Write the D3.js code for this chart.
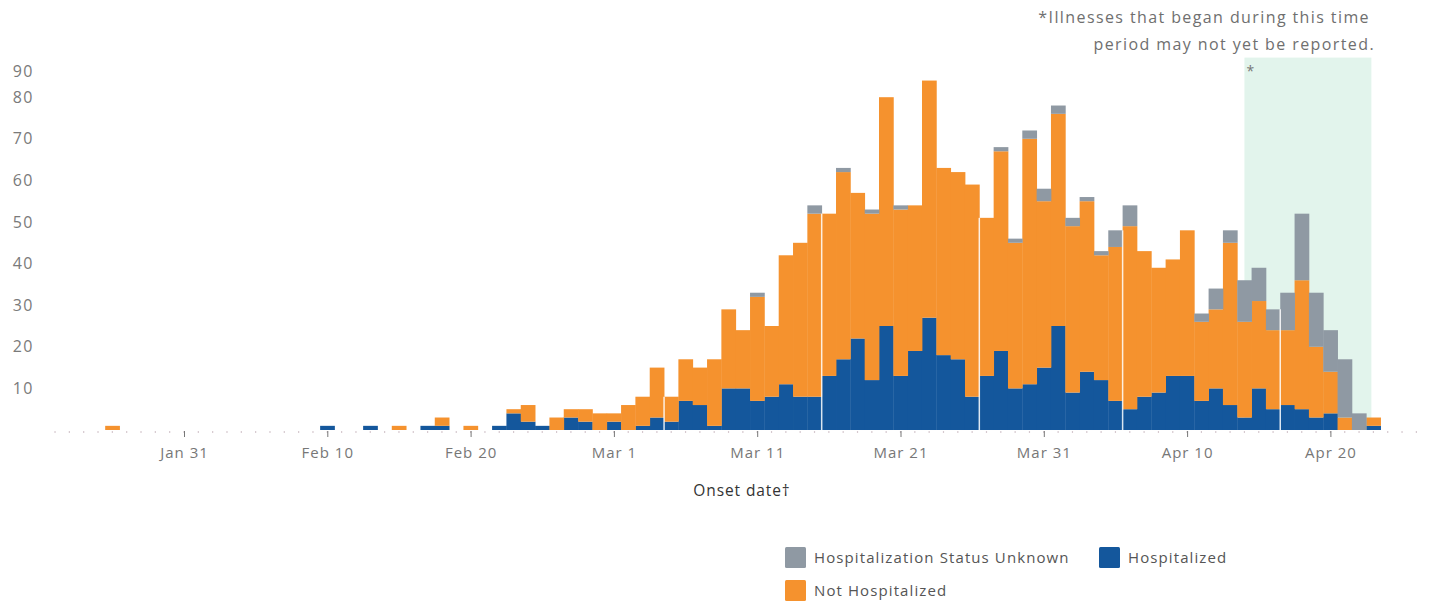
<!DOCTYPE html>
<html>
<head>
<meta charset="utf-8">
<script src="https://cdn.jsdelivr.net/npm/d3@7"></script>
<style>
  body { margin: 0; background: #fff; }
  svg { display: block; font-family: "Open Sans", sans-serif; }
</style>
</head>
<body>
<svg id="chart" width="1437" height="602"></svg>
<script>
// data (onset date, case counts)
var onsetDates = ['2020-01-26','2020-02-10','2020-02-13','2020-02-15','2020-02-17','2020-02-18','2020-02-20',
  '2020-02-22','2020-02-23','2020-02-24','2020-02-25','2020-02-26','2020-02-27','2020-02-28','2020-02-29',
  '2020-03-01','2020-03-02','2020-03-03','2020-03-04','2020-03-05','2020-03-06','2020-03-07','2020-03-08',
  '2020-03-09','2020-03-10','2020-03-11','2020-03-12','2020-03-13','2020-03-14','2020-03-15','2020-03-16',
  '2020-03-17','2020-03-18','2020-03-19','2020-03-20','2020-03-21','2020-03-22','2020-03-23','2020-03-24',
  '2020-03-25','2020-03-26','2020-03-27','2020-03-28','2020-03-29','2020-03-30','2020-03-31','2020-04-01',
  '2020-04-02','2020-04-03','2020-04-04','2020-04-05','2020-04-06','2020-04-07','2020-04-08','2020-04-09',
  '2020-04-10','2020-04-11','2020-04-12','2020-04-13','2020-04-14','2020-04-15','2020-04-16','2020-04-17',
  '2020-04-18','2020-04-19','2020-04-20','2020-04-21','2020-04-22','2020-04-23'];

var hospitalized = [0,1,1,0,1,1,0,
  1,4,2,1,0,3,2,0,
  2,0,1,3,2,7,6,1,
  10,10,7,8,11,8,8,13,
  17,22,12,25,13,19,27,18,
  17,8,13,19,10,11,15,25,
  9,14,12,7,5,8,9,13,
  13,7,10,6,3,10,5,6,
  5,3,4,0,0,1];

var notHospitalized = [1,0,0,1,0,2,1,
  0,1,4,0,3,2,3,4,
  2,6,7,12,6,10,9,16,
  19,14,25,17,31,37,44,39,
  45,35,40,55,40,35,57,45,
  45,51,38,48,35,59,40,51,
  40,41,30,37,44,35,30,28,
  35,19,19,39,23,21,19,18,
  31,17,10,3,0,2];

var statusUnknown = [0,0,0,0,0,0,0,
  0,0,0,0,0,0,0,0,
  0,0,0,0,0,0,0,0,
  0,0,1,0,0,0,2,0,
  1,0,1,0,1,0,0,0,
  0,0,0,1,1,2,3,2,
  2,1,1,4,5,0,0,0,
  0,2,5,3,10,8,5,9,
  16,13,10,14,4,0];

var yTicks = [10,20,30,40,50,60,70,80,90];
var xTickDates = ['2020-01-31','2020-02-10','2020-02-20','2020-03-01','2020-03-11','2020-03-21','2020-03-31','2020-04-10','2020-04-20'];
var breakDates = ['2020-03-05','2020-03-16','2020-03-27','2020-04-06','2020-04-17'];
var shadeRange = ['2020-04-14','2020-04-23'];

var seriesKeys = ['hosp','notHosp','unknown'];
var seriesColors = { hosp: '#14579c', notHosp: '#f5922e', unknown: '#8f99a3' };
var legendItems = [
  { key: 'unknown', label: 'Hospitalization Status Unknown' },
  { key: 'hosp', label: 'Hospitalized' },
  { key: 'notHosp', label: 'Not Hospitalized' }
];

var parseDay = d3.timeParse('%Y-%m-%d');
var fmtTick = d3.timeFormat('%b %-d');

var rows = onsetDates.map(function(d, i){
  return { date: parseDay(d), hosp: hospitalized[i], notHosp: notHospitalized[i], unknown: statusUnknown[i] };
});

// total per day, used for the break lines
function totalOn(date){
  var r = rows.find(function(row){ return +row.date === +date; });
  return r ? r.hosp + r.notHosp + r.unknown : 0;
}

var svg = d3.select('#chart');

// scales
var x = d3.scaleTime()
  .domain([parseDay('2020-01-31'), parseDay('2020-04-20')])
  .range([184, 1330.4]);
var dayW = x(parseDay('2020-02-01')) - x(parseDay('2020-01-31'));
var y = d3.scaleLinear().domain([0, 90]).range([430, 55.6]);

// shaded "not yet reported" period
var shade = shadeRange.map(parseDay);
svg.append('rect')
  .attr('x', x(shade[0]))
  .attr('y', y(90) + 2)
  .attr('width', x(shade[1]) - x(shade[0]) - 2)
  .attr('height', y(0) - y(90) - 2)
  .attr('fill', '#e2f4ec');

svg.append('text')
  .attr('x', x(shade[0]) + 6)
  .attr('y', y(90) + 20)
  .attr('text-anchor', 'middle')
  .attr('font-size', 14)
  .attr('fill', '#777')
  .text('*');

// stacked bars
var stacked = d3.stack().keys(seriesKeys)(rows);
svg.append('g').selectAll('g')
  .data(stacked)
  .join('g')
  .attr('fill', function(s){ return seriesColors[s.key]; })
  .selectAll('rect')
  .data(function(s){ return s; })
  .join('rect')
  .attr('x', function(d){ return x(d.data.date) - dayW / 2; })
  .attr('width', dayW + 0.4)
  .attr('y', function(d){ return y(d[1]); })
  .attr('height', function(d){ return y(d[0]) - y(d[1]); });

// white break lines between some bars
svg.append('g').selectAll('line')
  .data(breakDates.map(parseDay))
  .join('line')
  .attr('x1', function(d){ return x(d) - dayW / 2; })
  .attr('x2', function(d){ return x(d) - dayW / 2; })
  .attr('y1', function(d){ return y(Math.min(totalOn(d), totalOn(d3.timeDay.offset(d, -1)))); })
  .attr('y2', y(0))
  .attr('stroke', '#fff')
  .attr('stroke-opacity', 0.85)
  .attr('stroke-width', 1.5);

// dotted baseline, a small tick for each day
var allDays = d3.timeDay.range(parseDay('2020-01-22'), parseDay('2020-04-27'));
svg.append('g').selectAll('line')
  .data(allDays)
  .join('line')
  .attr('x1', function(d){ return x(d); })
  .attr('x2', function(d){ return x(d); })
  .attr('y1', y(0) + 1)
  .attr('y2', y(0) + 3)
  .attr('stroke', '#d6c9cf')
  .attr('stroke-width', 1.2);

// x axis
var xAxis = d3.axisBottom(x)
  .tickValues(xTickDates.map(parseDay))
  .tickFormat(fmtTick)
  .tickSize(6)
  .tickPadding(10);
var gx = svg.append('g')
  .attr('transform', 'translate(0,' + (y(0) + 1) + ')')
  .call(xAxis);
gx.select('.domain').remove();
gx.selectAll('.tick line').attr('stroke', '#777');
gx.selectAll('.tick text')
  .attr('fill', '#777')
  .attr('font-size', 15)
  .attr('letter-spacing', 1)
  .attr('font-family', '"Open Sans", sans-serif');

svg.append('text')
  .attr('x', 742)
  .attr('y', 496)
  .attr('text-anchor', 'middle')
  .attr('font-size', 15.5)
  .attr('letter-spacing', 0.9)
  .attr('fill', '#333')
  .text('Onset date\u2020');

// y axis labels only
var yAxis = d3.axisLeft(y).tickValues(yTicks).tickSize(0).tickPadding(0);
var gy = svg.append('g').attr('transform', 'translate(34,0)').call(yAxis);
gy.select('.domain').remove();
gy.selectAll('.tick text')
  .attr('fill', '#7a7a7a')
  .attr('font-size', 16)
  .attr('letter-spacing', 1.5)
  .attr('font-family', '"Open Sans", sans-serif');
// top label sits lower in the original
gy.selectAll('.tick').filter(function(d){ return d === 90; })
  .attr('transform', 'translate(0,' + (y(90) + 16) + ')');

// note top right
var note = svg.append('text')
  .attr('text-anchor', 'end')
  .attr('font-size', 16)
  .attr('letter-spacing', 1.4)
  .attr('fill', '#6f6f6f');
note.append('tspan').attr('x', 1370).attr('y', 23).text('*Illnesses that began during this time');
note.append('tspan').attr('x', 1375).attr('y', 50).text('period may not yet be reported.');

// legend
var legendPos = [[785, 547], [1099, 547], [785, 580]];
var lg = svg.append('g').selectAll('g')
  .data(legendItems)
  .join('g')
  .attr('transform', function(d, i){ return 'translate(' + legendPos[i][0] + ',' + legendPos[i][1] + ')'; });
lg.append('rect')
  .attr('width', 21)
  .attr('height', 21)
  .attr('rx', 1.5)
  .attr('fill', function(d){ return seriesColors[d.key]; });
lg.append('text')
  .attr('x', 29)
  .attr('y', 16)
  .attr('font-size', 15)
  .attr('letter-spacing', 1.1)
  .attr('fill', '#555')
  .text(function(d){ return d.label; });
</script>
</body>
</html>
